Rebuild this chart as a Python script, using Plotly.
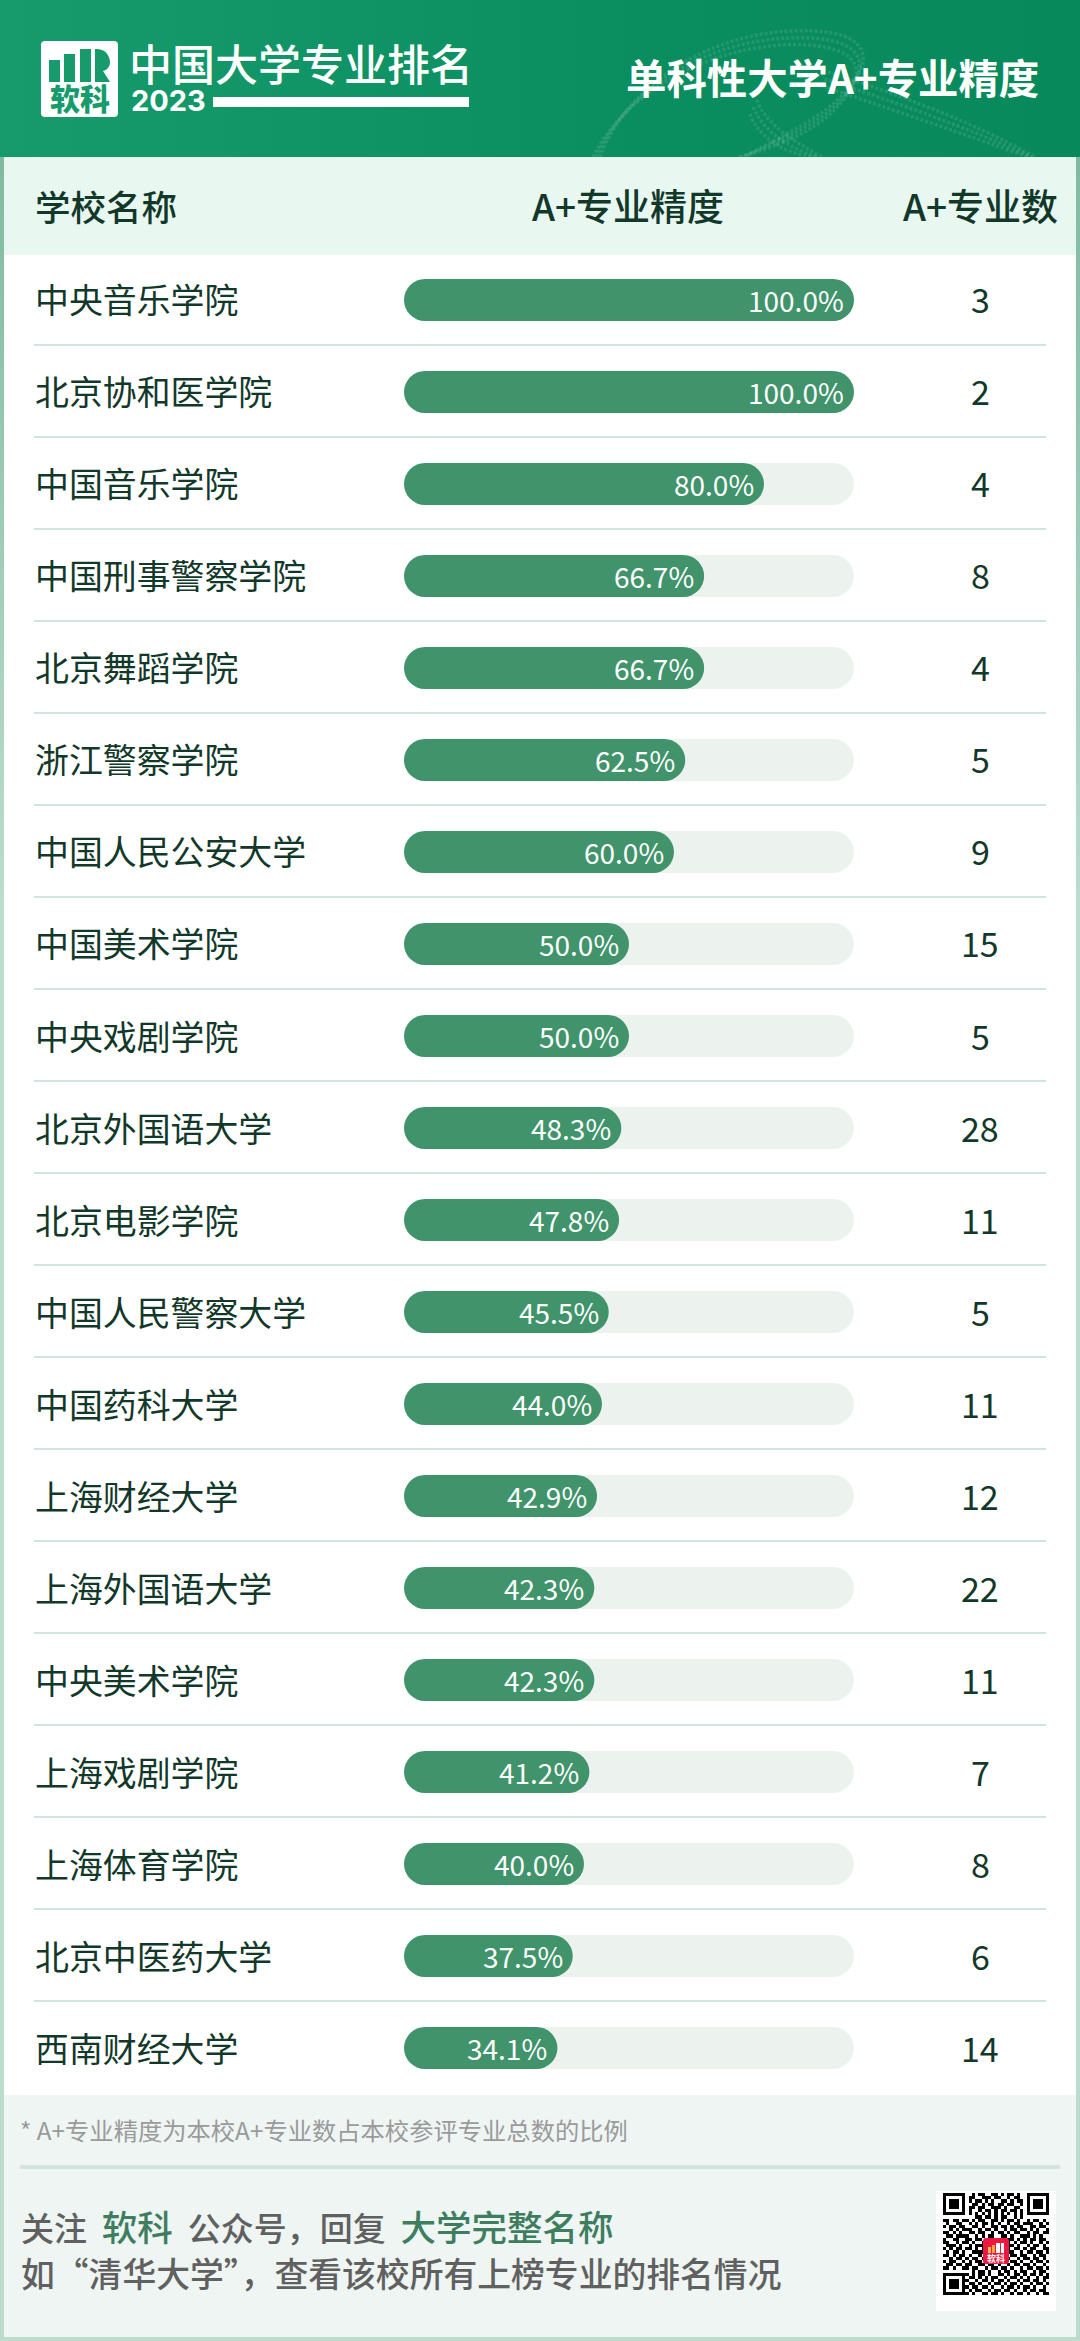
import plotly.graph_objects as go

W = 1080
H = 2341
FONT = "Noto Sans CJK SC"

schools = ["中央音乐学院", "北京协和医学院", "中国音乐学院", "中国刑事警察学院", "北京舞蹈学院",
           "浙江警察学院", "中国人民公安大学", "中国美术学院", "中央戏剧学院", "北京外国语大学",
           "北京电影学院", "中国人民警察大学", "中国药科大学", "上海财经大学", "上海外国语大学",
           "中央美术学院", "上海戏剧学院", "上海体育学院", "北京中医药大学", "西南财经大学"]
precision = [100.0, 100.0, 80.0, 66.7, 66.7, 62.5, 60.0, 50.0, 50.0, 48.3,
             47.8, 45.5, 44.0, 42.9, 42.3, 42.3, 41.2, 40.0, 37.5, 34.1]
counts = [3, 2, 4, 8, 4, 5, 9, 15, 5, 28, 11, 5, 11, 12, 22, 11, 7, 8, 6, 14]
track = [100] * len(schools)

# qr code modules
qr_finder = ["1111111", "1000001", "1011101", "1011101", "1011101", "1000001", "1111111"]
qr_top = ["0010110011010110100", "0110011101100101100", "0101101010011010110", "0011010110110110010",
          "0110110011101001100", "0100101101011011010", "0101010101010101010"]
qr_middle = ["000000000011011010110010100000000",
             "110110110101100110101101001011010",
             "010011001010110101001011011100101",
             "101101100110100110110101100110110",
             "001010111001011010010110110101001",
             "110101001101100101101011001011011",
             "011011110010101100110100111010100",
             "100110011011010010101101010110110",
             "110010110100100000001010110100101",
             "011101001011100000001101001011010",
             "101011011010100000001011010110011",
             "010110100111100000001100101101101",
             "110101101001000000000110110010110",
             "001011010110110101101001011011010",
             "101100101011010010110110100101101",
             "011011011001101101001011011010010",
             "110100110110010110110100101101101",
             "000000000101101001011010110010110"]
qr_bottom = ["10101101001101011010110101", "01101010110010110101001011", "10010110101101001011011010",
             "01101001011010110100101101", "10110110100101101011010010", "01011001011011010010110110",
             "10100110110100101101001011"]
qr_rows = [f + t + f for f, t in zip(qr_finder, qr_top)] + qr_middle + [f + b for f, b in zip(qr_finder, qr_bottom)]
qr_z = [[int(c) for c in r.ljust(33, "0")[:33]] for r in qr_rows]


def px(x):
    return x / W


def py(y):
    return 1 - y / H


annotations = []
shapes = []


def label(x, y, text, size, color, weight=400, anchor="left", yref="paper", family=FONT):
    annotations.append(dict(x=x / W, y=py(y) if yref == "paper" else y, xref="paper", yref=yref, text=text,
                            showarrow=False, xanchor=anchor, yanchor="middle", align=anchor, borderpad=0,
                            yshift=1 if yref == "y" else 0,
                            font=dict(family=family, size=size, color=color, weight=weight)))


def rect(x0, y0, x1, y1, color, radius=0, layer="below"):
    if radius:
        r = radius
        path = (f"M{x0 + r},{y0} L{x1 - r},{y0} Q{x1},{y0} {x1},{y0 + r} L{x1},{y1 - r} Q{x1},{y1} {x1 - r},{y1} "
                f"L{x0 + r},{y1} Q{x0},{y1} {x0},{y1 - r} L{x0},{y0 + r} Q{x0},{y0} {x0 + r},{y0} Z")
        shapes.append(dict(type="path", path=path, xref="x2", yref="y2", fillcolor=color,
                           line=dict(width=0), layer=layer))
    else:
        shapes.append(dict(type="rect", x0=x0, y0=y0, x1=x1, y1=y1, xref="x2", yref="y2", fillcolor=color,
                           line=dict(width=0), layer=layer))


fig = go.Figure()

# bars, an explicit base array makes plotly round both ends
bar_width = 42 / 92
for values, color in [(track, "#ecf3ef"), (precision, "#40936a")]:
    fig.add_trace(go.Bar(x=values, y=schools, base=[0] * len(schools), orientation="h", width=bar_width,
                         showlegend=False, hoverinfo="skip",
                         marker=dict(color=color, cornerradius=21, line=dict(width=0))))

# header + side frame gradients sit on a pixel axis
fig.add_trace(go.Scatter(x=[0, W, W, 0, 0], y=[0, 0, 157, 157, 0], xaxis="x2", yaxis="y2", mode="none", fill="toself",
                         hoverinfo="skip", showlegend=False,
                         fillgradient=dict(type="horizontal", start=0, stop=W,
                                           colorscale=[[0, "#179b6c"], [0.6, "#0a8d5f"], [1, "#08895b"]])))
for x0, x1 in [(0, 4), (W - 4, W)]:
    fig.add_trace(go.Scatter(x=[x0, x1, x1, x0, x0], y=[157, 157, H, H, 157], xaxis="x2", yaxis="y2", mode="none",
                             fill="toself", hoverinfo="skip", showlegend=False,
                             fillgradient=dict(type="vertical", start=157, stop=900,
                                               colorscale=[[0, "#7fbba0"], [1, "#bcdccd"]])))

# faint ribbon behind the right title
ribbons = [[(600, 157), (625, 90), (700, 36), (790, 31), (850, 28), (875, 45), (858, 75), (835, 115), (780, 135), (745, 157)],
           [(757, 100), (765, 125), (800, 145), (822, 157)],
           [(828, 72), (890, 92), (970, 120), (1035, 157)]]
for pts in ribbons:
    for off in [0, 7, 14]:
        p = [(a - off * 0.5, min(b + off, 157)) for a, b in pts]
        path = f"M{p[0][0]},{p[0][1]}"
        for i in range(1, len(p), 3):
            path += f" C{p[i][0]},{p[i][1]} {p[i + 1][0]},{p[i + 1][1]} {p[i + 2][0]},{p[i + 2][1]}"
        shapes.append(dict(type="path", path=path, xref="x2", yref="y2", layer="above", opacity=0.1,
                           line=dict(color="white", width=3.5, dash="3px,2px")))

# qr
fig.add_trace(go.Heatmap(z=qr_z, x0=944.6, dx=3.2, y0=2194.6, dy=3.2, xaxis="x2", yaxis="y2", showscale=False,
                         hoverinfo="skip", colorscale=[[0, "rgba(255,255,255,0)"], [1, "#000000"]], zmin=0, zmax=1))

# panels
rect(4, 157, W - 4, 255, "#e9f7f1")
rect(4, 2095, W - 4, 2337, "#eef5f3")
rect(0, 2337, W, H, "#bcdccd")
rect(20, 2165, 1060, 2169, "#d2e5dc")
rect(936, 2191, 1056, 2311, "#ffffff")
rect(983, 2238, 1009, 2264, "#ec1840", radius=3, layer="above")
rect(988, 2247, 991, 2253, "#f7c04a", layer="above")
rect(992, 2245, 995, 2253, "#f9a64a", layer="above")
rect(996, 2243, 1000, 2253, "#ffffff", layer="above")
rect(1001, 2243, 1004, 2253, "#ffffff", layer="above")

# logo
rect(41, 41, 118, 117, "#ffffff", radius=4, layer="above")
rect(49, 60, 60, 82, "#179b6c", layer="above")
rect(64, 54, 75, 82, "#179b6c", layer="above")
rect(80, 49, 91, 82, "#179b6c", layer="above")
shapes.append(dict(type="path", path="M95,49 L97,49 C107,49 110,58 110,62 C110,67 107,70 103,71 L110,82 L95,82 Z",
                   xref="x2", yref="y2", fillcolor="#179b6c", line=dict(width=0), layer="above"))
rect(213, 97, 469, 107, "#ffffff", layer="above")

# dividers between rows
for i in range(len(schools) - 1):
    shapes.append(dict(type="line", xref="paper", yref="y", x0=px(34), x1=px(1046), y0=i + 0.49, y1=i + 0.49,
                       line=dict(color="#d2e5dc", width=2), layer="below"))

# header texts
label(128, 62, "中国大学专业排名", 43, "white", 500)
label(130, 101, "2023", 29, "white", 700, family="Inter")
label(80, 97, "软科", 30, "#179b6c", 900, "center")
label(1040, 77, "单科性大学A+专业精度", 40.4, "white", 700, "right")
label(34, 205, "学校名称", 35.5, "#12382a", 500)
label(628, 205, "A+专业精度", 37, "#12382a", 500, "center")
label(980, 205, "A+专业数", 37, "#12382a", 500, "center")

for i, (name, n, v) in enumerate(zip(schools, counts, precision)):
    label(34, i, name, 33.9, "#12382a", 400, "left", "y")
    label(980, i, str(n), 34, "#12382a", 400, "center", "y")
    # value label just inside the bar end
    annotations.append(dict(x=v - 2, y=i, xref="x", yref="y", text=f"{v:.1f}%", showarrow=False, xanchor="right",
                            yanchor="middle", borderpad=0, yshift=0, font=dict(family=FONT, size=28, color="white")))

# footer texts
hl = "<span style='color:#3f7d5f;font-size:35.5px'>%s</span>"
label(19, 2129, "* A+专业精度为本校A+专业数占本校参评专业总数的比例", 24.3, "#9a9a9a")
label(20, 2225, "关注\u00a0\u00a0" + hl % "软科" + "\u00a0\u00a0公众号，回复\u00a0\u00a0" + hl % "大学完整名称", 33, "#606060", 500)
label(20, 2272, "如“清华大学”，查看该校所有上榜专业的排名情况", 33.8, "#606060", 500)
label(996, 2258, "软科", 9, "white", 700, "center")

fig.update_layout(
    width=W, height=H, margin=dict(l=0, r=0, t=0, b=0, pad=0), autosize=False,
    paper_bgcolor="white", plot_bgcolor="rgba(0,0,0,0)", barmode="overlay", showlegend=False,
    xaxis=dict(domain=[px(404), px(854)], range=[0, 100], visible=False, fixedrange=True),
    yaxis=dict(domain=[py(2094), py(254)], range=[19.5, -0.5], type="category", categoryorder="array",
               categoryarray=schools, visible=False, fixedrange=True),
    xaxis2=dict(domain=[0, 1], range=[0, W], visible=False, anchor="y2", fixedrange=True),
    yaxis2=dict(domain=[0, 1], range=[H, 0], visible=False, anchor="x2", fixedrange=True),
    shapes=shapes, annotations=annotations,
)

fig.write_html("out.html", config=dict(displayModeBar=False),
               post_script="document.body.style.margin='0';document.documentElement.style.overflow='hidden';")
